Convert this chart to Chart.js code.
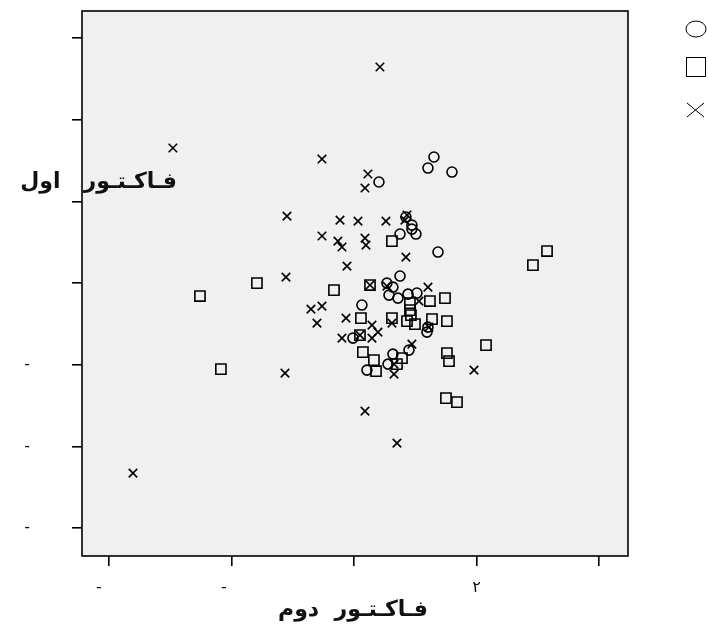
<!DOCTYPE html>
<html>
<head>
<meta charset="utf-8">
<script src="https://cdn.jsdelivr.net/npm/chart.js@4.4.1/dist/chart.umd.min.js"></script>
<style>
    html, body { margin: 0; padding: 0; background: #fff; }
    #wrap { width: 708px; height: 630px; }
</style>
</head>
<body>
<div id="wrap"><canvas id="scatter"></canvas></div>
<script>
// Data (factor scores)
const circleX = [0.653, 0.604, 0.800, 0.204, 0.424, 0.473, 0.473, 0.506, 0.376, 0.686, 0.376, 0.269, 0.318,
                 0.286, 0.359, 0.441, 0.514, 0.065, 0.604, 0.596, -0.008, 0.318, 0.449, 0.278, 0.106];
const circleY = [1.543, 1.408, 1.359, 1.237, 0.808, 0.710, 0.661, 0.600, 0.600, 0.380, 0.086, 0.000, -0.049,
                 -0.147, -0.184, -0.135, -0.122, -0.269, -0.539, -0.600, -0.673, -0.869, -0.820, -0.992, -1.065];

const squareX = [0.310, 0.131, -0.163, -1.257, -0.792, -1.086, 0.457, 0.457, 0.465, 0.620, 0.743, 0.057, 0.310,
                 0.433, 0.498, 0.637, 0.759, 0.049, 0.073, 0.163, 0.392, 0.351, 0.180, 0.759, 0.776, 1.078,
                 0.751, 0.841, 1.461, 1.576];
const squareY = [0.514, -0.024, -0.086, -0.159, 0.000, -1.053, -0.245, -0.331, -0.392, -0.220, -0.184, -0.429, -0.429,
                 -0.465, -0.502, -0.441, -0.465, -0.637, -0.845, -0.943, -0.918, -0.992, -1.078, -0.857, -0.955, -0.759,
                 -1.408, -1.457, 0.220, 0.392];

const crossX = [0.212, -1.478, -0.261, 0.114, 0.090, -0.547, -0.114, 0.033, 0.261, 0.433, 0.416, -0.261, -0.131,
                -0.098, 0.090, 0.098, 0.424, -0.057, 0.131, -0.555, 0.604, 0.531, -0.351, -0.261, -0.302, -0.065,
                0.310, 0.147, 0.196, 0.147, -0.098, 0.049, 0.612, 0.473, 0.327, 0.327, 0.980, -0.563, 0.090,
                0.351, -1.804, 0.269];
const crossY = [2.645, 1.653, 1.518, 1.335, 1.163, 0.820, 0.771, 0.759, 0.759, 0.833, 0.771, 0.576, 0.514,
                0.441, 0.551, 0.465, 0.318, 0.208, -0.024, 0.073, -0.049, -0.220, -0.318, -0.282, -0.490, -0.429,
                -0.490, -0.514, -0.600, -0.673, -0.673, -0.637, -0.539, -0.747, -0.992, -1.114, -1.065, -1.102, -1.567,
                -1.959, -2.326, -0.037];

// Axis ticks and their (partly missing) labels as printed
const xTickValues = [-2, -1, 0, 1, 2];
const xTickLabels = ['-\u00a0\u00a0\u00a0\u00a0', '-\u00a0\u00a0\u00a0', '', '٢', ''];
const yTickValues = [-3, -2, -1, 0, 1, 2, 3];
const yTickLabels = ['-', '-', '-', '', '', '', ''];

const xTitle = 'فـاكـتـور  دوم';
const yTitle = 'فـاكـتـور   اول';

function toPoints(xs, ys) {
    return xs.map((x, i) => ({ x: x, y: ys[i] }));
}

// Plot background, frame, horizontal titles, symbol-only legend
const decorations = {
    id: 'decorations',
    beforeDatasetsDraw(chart) {
        const { ctx, chartArea: a } = chart;
        ctx.save();
        ctx.fillStyle = '#f0f0f0';
        ctx.fillRect(a.left, a.top, a.right - a.left, a.bottom - a.top);
        ctx.restore();
    },
    afterDatasetsDraw(chart) {
        const { ctx, chartArea: a } = chart;
        ctx.save();
        ctx.strokeStyle = '#000';
        ctx.lineWidth = 1.6;
        ctx.strokeRect(a.left, a.top, a.right - a.left, a.bottom - a.top);

        // titles
        ctx.fillStyle = '#111';
        ctx.font = 'bold 22px "DejaVu Sans"';
        ctx.textBaseline = 'middle';
        ctx.textAlign = 'center';
        ctx.fillText(xTitle, (a.left + a.right) / 2 - 2, 610);
        ctx.textAlign = 'right';
        ctx.fillText(yTitle, 177, 182);

        // legend symbols
        ctx.strokeStyle = '#000';
        ctx.lineWidth = 1;
        ctx.beginPath();
        ctx.ellipse(696, 29, 10, 8, 0, 0, Math.PI * 2);
        ctx.stroke();
        ctx.strokeRect(686.5, 57.5, 19, 19);
        ctx.beginPath();
        ctx.moveTo(687, 103); ctx.lineTo(704, 117);
        ctx.moveTo(704, 103); ctx.lineTo(687, 117);
        ctx.stroke();
        ctx.restore();
    }
};

const markStyle = {
    backgroundColor: 'rgba(0,0,0,0)',
    borderColor: '#000',
    borderWidth: 1.6
};

new Chart(document.getElementById('scatter'), {
    type: 'scatter',
    data: {
        datasets: [
            { label: 'c1', data: toPoints(circleX, circleY), pointStyle: 'circle', pointRadius: 5, ...markStyle },
            { label: 'c2', data: toPoints(squareX, squareY), pointStyle: 'rect', pointRadius: 7.2, ...markStyle },
            { label: 'c3', data: toPoints(crossX, crossY), pointStyle: 'crossRot', pointRadius: 6, ...markStyle }
        ]
    },
    options: {
        responsive: true,
        maintainAspectRatio: false,
        animation: false,
        layout: { padding: { top: 11, right: 80, left: 0, bottom: 0 } },
        plugins: {
            legend: { display: false },
            tooltip: { enabled: false }
        },
        scales: {
            x: {
                type: 'linear',
                min: -2.22,
                max: 2.237,
                afterFit: s => { s.height = 74; },
                afterBuildTicks: s => { s.ticks = xTickValues.map(v => ({ value: v })); },
                grid: { drawOnChartArea: false, drawTicks: true, tickLength: 10, color: '#000', lineWidth: 1.6 },
                border: { display: false },
                ticks: {
                    color: '#111',
                    padding: 12,
                    maxRotation: 0,
                    font: { family: 'DejaVu Sans', size: 16 },
                    callback: v => xTickLabels[xTickValues.indexOf(v)] ?? ''
                }
            },
            y: {
                type: 'linear',
                min: -3.34,
                max: 3.33,
                // the wide tick padding would otherwise push the plot top down
                afterFit: s => { s.width = 82; s.paddingTop = 0; s.paddingBottom = 0; },
                afterBuildTicks: s => { s.ticks = yTickValues.map(v => ({ value: v })); },
                grid: { drawOnChartArea: false, drawTicks: true, tickLength: 10, color: '#000', lineWidth: 1.6 },
                border: { display: false },
                ticks: {
                    color: '#111',
                    padding: 42,
                    font: { family: 'DejaVu Sans', size: 16 },
                    callback: v => yTickLabels[yTickValues.indexOf(v)] ?? ''
                }
            }
        }
    },
    plugins: [decorations]
});
</script>
</body>
</html>
